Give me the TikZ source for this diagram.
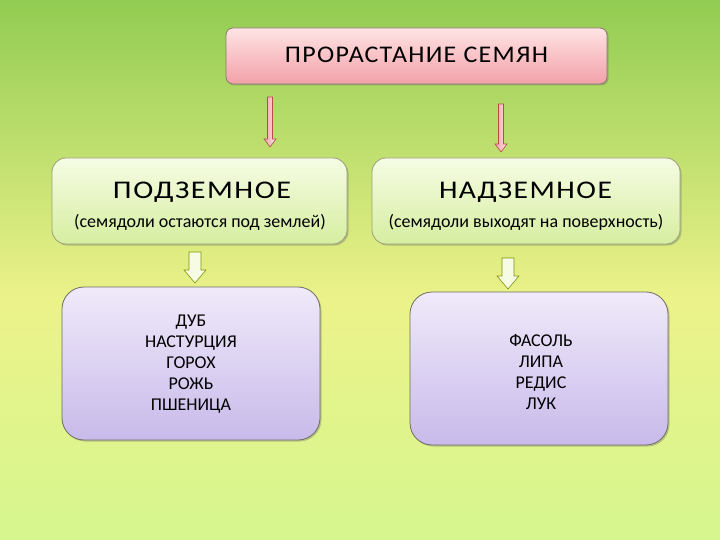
\documentclass[tikz,border=0pt]{standalone}
\usepackage{fontspec}
\usepackage{graphicx}
\setmainfont{Carlito}
\usetikzlibrary{shadows}
\definecolor{bgtop}{RGB}{146,204,82}
\definecolor{bgmid}{RGB}{236,242,138}
\definecolor{bgbot}{RGB}{214,246,142}
\definecolor{pinktop}{RGB}{255,228,228}
\definecolor{pinkbot}{RGB}{242,160,168}
\definecolor{greentop}{RGB}{246,252,228}
\definecolor{greenbot}{RGB}{214,238,160}
\definecolor{violtop}{RGB}{240,234,250}
\definecolor{violbot}{RGB}{200,186,234}
\definecolor{edgegray}{RGB}{110,110,100}
\newcommand{\wide}{\addfontfeature{LetterSpace=5}}
\tikzset{
  x=1pt,y=-1pt,
  boxbase/.style={draw=edgegray,line width=0.8pt,
    drop shadow={shadow xshift=1.5pt,shadow yshift=-1.5pt,opacity=0.35,fill=black!60}},
  titlebox/.style={boxbase,rounded corners=7pt,top color=pinktop,bottom color=pinkbot,draw=edgegray!80!pinkbot},
  midbox/.style={boxbase,rounded corners=14pt,top color=greentop,bottom color=greenbot,draw=edgegray!60!greenbot},
  lowbox/.style={boxbase,rounded corners=22pt,top color=violtop,bottom color=violbot},
  pinkarrow/.style={draw=red!60!black!70,line width=0.6pt,left color=pinkbot,right color=pinktop},
  greenarrow/.style={draw=olive!80!green,line width=0.6pt,fill=greentop},
  txt/.style={text=black,align=center,inner sep=0pt},
  small/.style={txt,font=\fontsize{18}{21}\selectfont},
  heading/.style={txt,anchor=base}
}
\begin{document}
\begin{tikzpicture}
\useasboundingbox (0,0) rectangle (720,540);
\shade[top color=bgtop,bottom color=bgmid] (0,0) rectangle (720,300);
\shade[top color=bgmid,bottom color=bgbot] (0,300) rectangle (720,540);
% boxes
\path[titlebox] (226,28) rectangle (607,84);
\node[heading] (title) at (416.5,63) {\resizebox{263pt}{15.5pt}{\wide ПРОРАСТАНИЕ СЕМЯН}};
\path[midbox] (52,158) rectangle (347,244);
\node[heading] (under) at (202,199) {\resizebox{178pt}{16.5pt}{\wide ПОДЗЕМНОЕ}};
\node[small,anchor=base] (unders) at (200,227) {(семядоли остаются под землей)};
\path[midbox] (372,158) rectangle (680,244);
\node[heading] (above) at (525.5,199) {\resizebox{173pt}{16.5pt}{\wide НАДЗЕМНОЕ}};
\node[small,anchor=base] (aboves) at (526,227) {(семядоли выходят на поверхность)};
\path[lowbox] (62,287) rectangle (320,440);
\node[small] (leftlist) at (191,364) {ДУБ\\НАСТУРЦИЯ\\ГОРОХ\\РОЖЬ\\ПШЕНИЦА};
\path[lowbox] (410,292) rectangle (668,445);
\node[small] (rightlist) at (541,372) {ФАСОЛЬ\\ЛИПА\\РЕДИС\\ЛУК};
% pink arrows
\draw[pinkarrow] (267.5,97) -- (272.5,97) -- (272.5,139) -- (276,139) -- (270,147) -- (264,139) -- (267.5,139) -- cycle;
\draw[pinkarrow] (498.5,104) -- (503.5,104) -- (503.5,144) -- (507,144) -- (501,152) -- (495,144) -- (498.5,144) -- cycle;
% green arrows
\draw[greenarrow] (189,252) -- (201,252) -- (201,270) -- (206,270) -- (195,283) -- (184,270) -- (189,270) -- cycle;
\draw[greenarrow] (502,258) -- (514,258) -- (514,276) -- (519,276) -- (508,289) -- (497,276) -- (502,276) -- cycle;
\end{tikzpicture}
\end{document}
